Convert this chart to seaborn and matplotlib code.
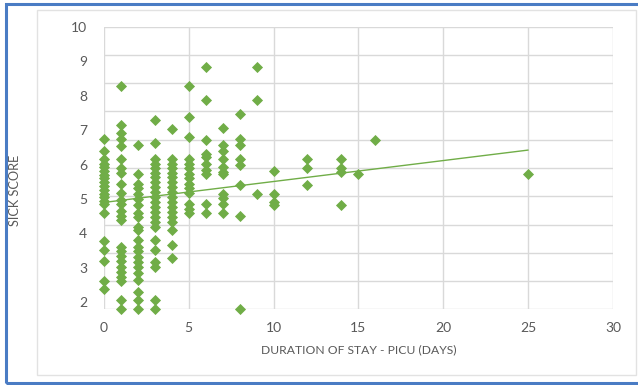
import numpy as np
import pandas as pd
import matplotlib
matplotlib.use("Agg")
import matplotlib.pyplot as plt
import seaborn as sns
from matplotlib.patches import Rectangle

# ---- data ----
days_0 = [6.73, 6.40, 6.15, 6.03, 5.94, 5.82, 5.71, 5.61, 5.49, 5.38, 5.26, 5.16, 5.05, 4.94, 4.85, 4.58, 3.78, 3.52, 3.20, 2.62, 2.38]
days_1 = [8.28, 7.14, 6.92, 6.73, 6.54, 6.15, 5.89, 5.76, 5.43, 5.18, 4.97, 4.85, 4.66, 4.51, 4.39, 3.62, 3.50, 3.35, 3.21, 3.04, 2.89, 2.75, 2.62, 2.07, 1.80]
days_2 = [6.56, 5.74, 5.45, 5.31, 5.16, 4.99, 4.82, 4.58, 4.49, 4.20, 4.10, 3.81, 3.62, 3.50, 3.33, 3.18, 3.04, 2.84, 2.65, 2.31, 2.07, 1.80]
days_3 = [7.29, 6.63, 6.15, 6.03, 5.89, 5.76, 5.65, 5.50, 5.36, 5.21, 5.07, 4.92, 4.78, 4.63, 4.49, 4.34, 4.20, 3.81, 3.52, 3.18, 3.04, 2.07, 1.80]
days_4 = [7.04, 6.15, 6.03, 5.89, 5.76, 5.65, 5.50, 5.36, 5.21, 5.07, 4.92, 4.78, 4.63, 4.49, 4.34, 4.10, 3.68, 3.28]
days_5 = [8.28, 7.37, 6.81, 6.15, 6.03, 5.89, 5.74, 5.60, 5.45, 5.31, 5.18, 4.85, 4.72, 4.60]
days_6 = [8.84, 7.87, 6.71, 6.32, 6.21, 6.03, 5.84, 5.72, 4.85, 4.58]
days_7 = [7.05, 6.56, 6.40, 6.15, 5.94, 5.79, 5.72, 5.16, 5.02, 4.85, 4.60]
days_8 = [7.46, 6.73, 6.56, 6.15, 5.99, 5.40, 4.50, 1.80]
days_9 = [8.84, 7.87, 5.16]
days_10 = [5.81, 5.16, 4.92, 4.82]
days_12 = [6.15, 5.89, 5.40]
days_14 = [6.15, 5.89, 5.79, 4.84]
days_15 = [5.72]
days_16 = [6.71]
days_25 = [5.72]

columns = {0: days_0, 1: days_1, 2: days_2, 3: days_3, 4: days_4, 5: days_5,
           6: days_6, 7: days_7, 8: days_8, 9: days_9, 10: days_10, 12: days_12,
           14: days_14, 15: days_15, 16: days_16, 25: days_25}

trend_x = [0, 25]
trend_y = [4.90, 6.42]

x_ticks = [0, 5, 10, 15, 20, 25, 30]
y_ticks = [2, 3, 4, 5, 6, 7, 8, 9, 10]
x_title = "DURATION OF STAY - PICU (DAYS)"
y_title = "SICK SCORE"

df = pd.DataFrame([(d, s) for d, vals in columns.items() for s in vals],
                  columns=["days", "score"])
trend = pd.DataFrame({"days": trend_x, "score": trend_y})

# ---- styling ----
sns.set_theme(style="white")
plt.rcParams["font.family"] = ["Lato", "DejaVu Sans"]

W, H = 638, 385
fig = plt.figure(figsize=(W / 100, H / 100), dpi=100)
fig.patch.set_facecolor("white")

# outer frames
fig.patches.append(Rectangle((6 / W, 1 - 383 / H), 640 / W, (383 - 4) / H,
                             transform=fig.transFigure, fill=False,
                             edgecolor="#4A7CC4", linewidth=2.2, zorder=0))
fig.patches.append(Rectangle((37 / W, 1 - 375 / H), (636 - 37) / W, (375 - 10) / H,
                             transform=fig.transFigure, fill=False,
                             edgecolor="#E2E2E2", linewidth=1.0, zorder=0))

left, right = 103.8 / W, 613.0 / W
top, bottom = 1 - 26.7 / H, 1 - 309.3 / H
ax = fig.add_axes([left, bottom, right - left, top - bottom])

green = "#70AD47"
sns.scatterplot(data=df, x="days", y="score", marker="D", s=32, color=green,
                linewidth=0, ax=ax, zorder=3, clip_on=False)
sns.lineplot(data=trend, x="days", y="score", color=green, linewidth=1.0,
             ax=ax, zorder=2)

ax.set_xlim(0, 30)
ax.set_ylim(1.8, 10)
ax.set_xticks(x_ticks)
ax.set_yticks(y_ticks)
ax.set_xticklabels([str(t) for t in x_ticks])
ax.set_yticklabels([str(t) for t in y_ticks])

# gridlines (Excel-like: horizontal grid evenly divides the axis range)
for gy in np.linspace(1.8, 10, 11):
    ax.axhline(gy, color="#D9D9D9", linewidth=1.0, zorder=1)
for gx in x_ticks:
    ax.axvline(gx, color="#D9D9D9", linewidth=1.0, zorder=1)

for sp in ax.spines.values():
    sp.set_visible(False)
ax.tick_params(axis="both", length=0, labelsize=10, labelcolor="#595959")
ax.tick_params(axis="x", pad=9)
ax.tick_params(axis="y", pad=12)

ax.set_xlabel(x_title, fontsize=8.7, color="#595959")
ax.set_ylabel(y_title, fontsize=9.2, color="#595959")
ax.xaxis.set_label_coords(0.5, -0.125)
ax.yaxis.set_label_coords(-0.162, 0.42)

fig.savefig("out.png", dpi=100, facecolor="white")
